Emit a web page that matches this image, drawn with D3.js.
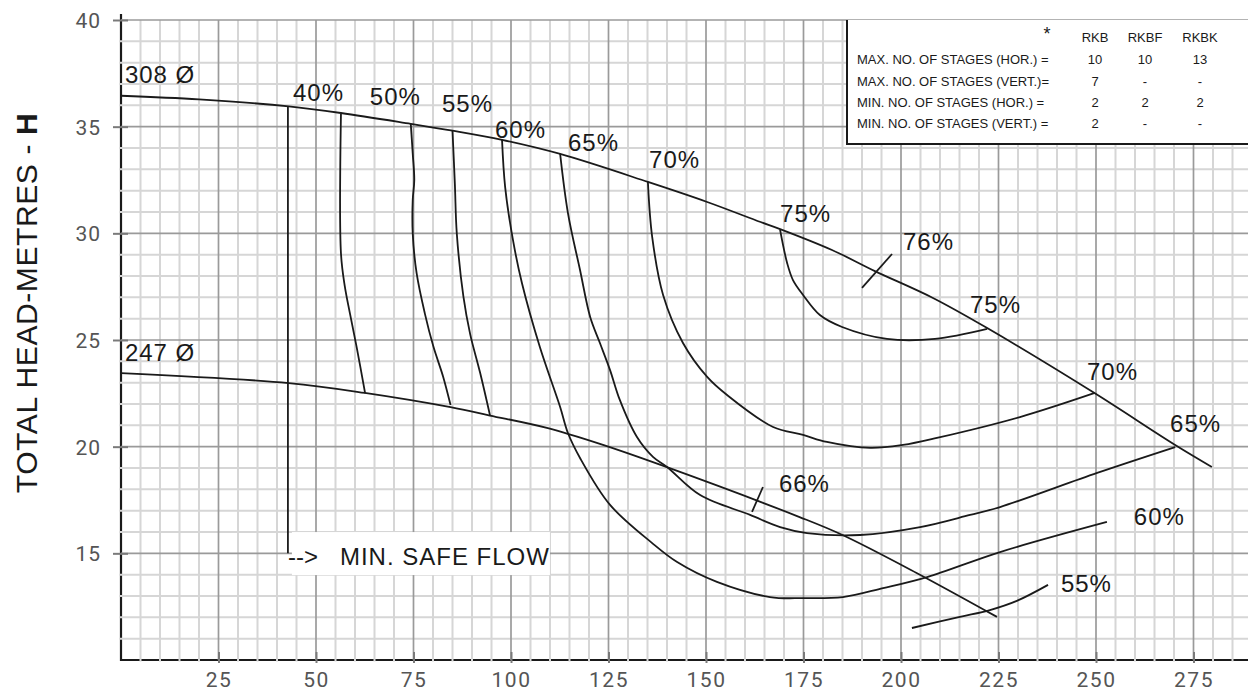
<!DOCTYPE html>
<html><head><meta charset="utf-8">
<script src="https://cdn.jsdelivr.net/npm/d3@7"></script>
<style>
html,body{margin:0;padding:0;background:#fff;}
svg{display:block;}
</style></head>
<body>
<svg id="chart" width="1248" height="691"></svg>
<script>
// ---------- DATA (flow Q, head H) ----------
const xTicks = [25, 50, 75, 100, 125, 150, 175, 200, 225, 250, 275];
const yTicks = [15, 20, 25, 30, 35, 40];

const curve308 = [[0,36.45],[20,36.28],[43,35.95],[56.4,35.64],[74.3,35.13],[85,34.81],[97.7,34.38],[112.6,33.72],[135.1,32.41],[150.3,31.47],[164,30.53],[169,30.2],[182.3,29.22],[193.3,28.23],[208.2,26.97],[222.1,25.56],[249.2,22.56],[270.3,20.08],[279.7,19.05]];
const curve247 = [[0,23.45],[43,22.98],[62.5,22.52],[84.5,21.85],[94.6,21.46],[109.2,20.88],[122.8,20.13],[139.8,19.05],[174,16.7],[185,15.86],[204,14.08],[224.6,12.02]];

const eff40 = [[56.4,35.59],[56.4,29.06],[57.4,27.5],[58.7,26.25],[60.4,24.69],[62.6,22.5]];
const eff50 = [[74.3,35.13],[74.8,33.75],[75.2,32.5],[74.8,31.56],[74.8,30.0],[75.8,28.13],[77.9,26.25],[80.1,24.69],[82.6,23.28],[84.5,21.95]];
const eff55 = [[85.0,34.81],[85.6,32.34],[86.1,30.0],[87.8,27.03],[89.5,25.3],[92.1,23.45],[94.6,21.48]];
const eff60 = [[97.7,34.38],[98.5,32.17],[100.5,29.69],[102.8,27.67],[107.4,24.67],[112.6,21.86],[114.6,20.64],[117.7,19.47],[125.4,17.27],[136.2,15.48],[142.6,14.59],[152.8,13.66],[166.4,12.95],[174.9,12.9],[185.1,12.95],[195.4,13.37],[206.7,13.89],[225.4,15.06],[252.8,16.47]];
const eff65 = [[112.6,33.72],[114.6,30.95],[117.7,28.28],[120.3,26.08],[122.8,24.86],[125.4,23.59],[127.9,22.19],[132.3,20.45],[136.4,19.52],[140.0,19.05],[148.5,17.73],[161.3,16.8],[169.0,16.23],[175.9,15.95],[189.5,15.86],[204.9,16.23],[217.7,16.8],[225.4,17.17],[250.3,18.77],[270.3,19.98]];
const eff70 = [[135.1,32.41],[136.2,29.83],[139.0,27.11],[144.1,24.86],[150.3,23.27],[155.4,22.42],[167.2,20.92],[174.9,20.55],[181.0,20.22],[192.1,19.94],[200.5,20.08],[209.2,20.41],[230.5,21.39],[249.7,22.52]];
const eff75 = [[169.0,30.16],[170.8,28.61],[172.3,27.81],[174.9,27.11],[179.2,26.17],[184.9,25.61],[196.4,25.05],[208.7,25.05],[222.1,25.52]];
const eff55low = [[202.8,11.5],[215.1,12.02],[222.8,12.34],[229.7,12.77],[237.7,13.52]];
const mark76 = [[190.0,27.44],[197.7,29.03]];
const mark66 = [[161.8,16.94],[164.6,18.11]];
const minSafeFlow = [[42.8,35.97],[42.8,15.0]];

const labelTexts = ["308 Ø","247 Ø","40%","50%","55%","60%","65%","70%","75%","76%","75%","70%","65%","60%","55%","66%"];
const labelAt = [[1,37.05],[1,24.02],[44.1,36.2],[63.8,36.02],[82.3,35.69],[95.9,34.47],[114.6,33.86],[135.4,33.06],[169,30.53],[200.5,29.22],[217.7,26.27],[247.7,23.13],[269,20.69],[259.7,16.33],[241,13.19],[168.7,17.875]];
const minFlowLabelAt = [42.8,14.45];

const tableHeaders = ["RKB","RKBF","RKBK"];
const tableRows = ["MAX. NO. OF STAGES (HOR.) =","MAX. NO. OF STAGES (VERT.)=","MIN. NO. OF STAGES (HOR.) =","MIN. NO. OF STAGES (VERT.) ="];
const tableValues = [["10","10","13"],["7","-","-"],["2","2","2"],["2","-","-"]];

// ---------- CHART ----------
const svg = d3.select("#chart");
const x = d3.scaleLinear().domain([0, 290]).range([121, 1252]);
const y = d3.scaleLinear().domain([10, 40]).range([660, 20]);
const X0 = x(0), XR = 1248, YT = y(40), YB = y(10);

svg.append("rect").attr("width",1248).attr("height",691).attr("fill","#fff");

// axes lines (under grid, giving the interrupted look)
svg.append("line").attr("x1",X0).attr("x2",X0).attr("y1",YT-6).attr("y2",YB+1).attr("stroke","#1a1a1a").attr("stroke-width",2.2);
svg.append("line").attr("x1",X0-1).attr("x2",XR).attr("y1",YB).attr("y2",YB).attr("stroke","#1a1a1a").attr("stroke-width",2.2);

// grid
const minorX = d3.range(5, 290, 5).filter(v => v % 25 !== 0);
const majorX = d3.range(25, 290, 25);
const minorY = d3.range(11, 40, 1).filter(v => v % 5 !== 0);
const majorY = d3.range(15, 41, 5);
const g = svg.append("g");
g.selectAll(".mx").data(minorX).join("line")
  .attr("x1",d=>x(d)).attr("x2",d=>x(d)).attr("y1",YT).attr("y2",YB+1.5)
  .attr("stroke","#d6d6d6").attr("stroke-width",2);
g.selectAll(".my").data(minorY).join("line")
  .attr("x1",X0-1.5).attr("x2",XR).attr("y1",d=>y(d)).attr("y2",d=>y(d))
  .attr("stroke","#d6d6d6").attr("stroke-width",2);
g.selectAll(".Mx").data(majorX).join("line")
  .attr("x1",d=>x(d)).attr("x2",d=>x(d)).attr("y1",YT).attr("y2",YB)
  .attr("stroke","#9a9a9a").attr("stroke-width",1.7);
g.selectAll(".My").data(majorY).join("line")
  .attr("x1",X0).attr("x2",XR).attr("y1",d=>y(d)).attr("y2",d=>y(d))
  .attr("stroke","#9a9a9a").attr("stroke-width",1.7);

// axes ticks + labels
const yAxis = svg.append("g").attr("transform",`translate(${X0},0)`)
  .call(d3.axisLeft(y).tickValues(yTicks).tickSize(8).tickPadding(12));
yAxis.select(".domain").remove();
yAxis.selectAll(".tick line").attr("x2",7).attr("x1",-8).attr("stroke","#7a7a7a").attr("stroke-width",2);
yAxis.selectAll(".tick text").attr("x",-20).attr("dy","0.36em")
  .attr("font-family","Roboto, 'Liberation Sans', Arial, sans-serif").attr("font-size",21)
  .attr("letter-spacing","1px").attr("fill","#555");

const xAxis = svg.append("g").attr("transform",`translate(0,${YB})`)
  .call(d3.axisBottom(x).tickValues(xTicks).tickSize(4));
xAxis.select(".domain").remove();
xAxis.selectAll(".tick line").attr("y1",-8).attr("y2",3).attr("stroke","#7a7a7a").attr("stroke-width",2);
xAxis.selectAll(".tick text").attr("y",27).attr("dy",0)
  .attr("font-family","Roboto, 'Liberation Sans', Arial, sans-serif").attr("font-size",21)
  .attr("letter-spacing","1.5px").attr("fill","#555");

// y title
svg.append("text").attr("transform","translate(37,303) rotate(-90)")
  .attr("text-anchor","middle").attr("font-family","'Liberation Sans', Arial, sans-serif")
  .attr("font-size",30).attr("letter-spacing","0.6px").attr("fill","#1a1a1a")
  .text("TOTAL HEAD-METRES - ")
  .append("tspan").attr("font-weight","bold").text("H");

// table box
const tb = svg.append("g");
tb.append("rect").attr("x",847).attr("y",YT).attr("width",XR-847).attr("height",144-YT).attr("fill","#fff");
tb.append("line").attr("x1",847).attr("x2",847).attr("y1",YT).attr("y2",144).attr("stroke","#1a1a1a").attr("stroke-width",2);
tb.append("line").attr("x1",846).attr("x2",XR).attr("y1",144).attr("y2",144).attr("stroke","#1a1a1a").attr("stroke-width",2);
const tFont = "'Liberation Sans', Arial, sans-serif";
const colX = [1095, 1145, 1200];
const rowY = [64, 86, 107, 128];
tb.append("text").attr("x",1047).attr("y",40).attr("text-anchor","middle").attr("font-family",tFont).attr("font-size",18).attr("fill","#1a1a1a").text("*");
tb.selectAll(".th").data(tableHeaders).join("text")
  .attr("x",(d,i)=>colX[i]).attr("y",42).attr("text-anchor","middle")
  .attr("font-family",tFont).attr("font-size",13).attr("fill","#1a1a1a").text(d=>d);
tb.selectAll(".tr").data(tableRows).join("text")
  .attr("x",857).attr("y",(d,i)=>rowY[i])
  .attr("font-family",tFont).attr("font-size",13).attr("fill","#1a1a1a").text(d=>d);
tableValues.forEach((row,ri)=>{
  tb.selectAll(null).data(row).join("text")
    .attr("x",(d,i)=>colX[i]).attr("y",rowY[ri]).attr("text-anchor","middle")
    .attr("font-family",tFont).attr("font-size",13).attr("fill","#1a1a1a").text(d=>d);
});

// min safe flow label background + text
const mfx = x(minFlowLabelAt[0]), mfy = y(minFlowLabelAt[1]);
svg.append("rect").attr("x",mfx+4).attr("y",mfy-33).attr("width",258).attr("height",43).attr("fill","#fff");

// curves
const smooth = d3.line().x(d=>x(d[0])).y(d=>y(d[1])).curve(d3.curveCatmullRom.alpha(0.5));
const straight = d3.line().x(d=>x(d[0])).y(d=>y(d[1]));
const cg = svg.append("g").attr("fill","none").attr("stroke","#1a1a1a").attr("stroke-width",1.8).attr("stroke-linejoin","round");
[curve308, curve247, eff40, eff50, eff55, eff60, eff65, eff70, eff75, eff55low].forEach(c=>{
  cg.append("path").attr("d", smooth(c));
});
[mark76, mark66, minSafeFlow].forEach(c=>{
  cg.append("path").attr("d", straight(c));
});

// labels
const lFont = "'Liberation Sans', Arial, Helvetica, sans-serif";
svg.selectAll(".lbl").data(labelTexts).join("text")
  .attr("x",(d,i)=>x(labelAt[i][0])).attr("y",(d,i)=>y(labelAt[i][1]))
  .attr("font-family",lFont).attr("font-size",24).attr("letter-spacing","1px")
  .attr("fill","#1a1a1a").text(d=>d);
svg.append("text").attr("x",mfx).attr("y",mfy).attr("font-family",lFont).attr("font-size",24)
  .attr("fill","#1a1a1a").text("-->");
svg.append("text").attr("x",mfx+52).attr("y",mfy).attr("font-family",lFont).attr("font-size",24)
  .attr("letter-spacing","1px").attr("fill","#1a1a1a").text("MIN. SAFE FLOW");
</script>
</body></html>
